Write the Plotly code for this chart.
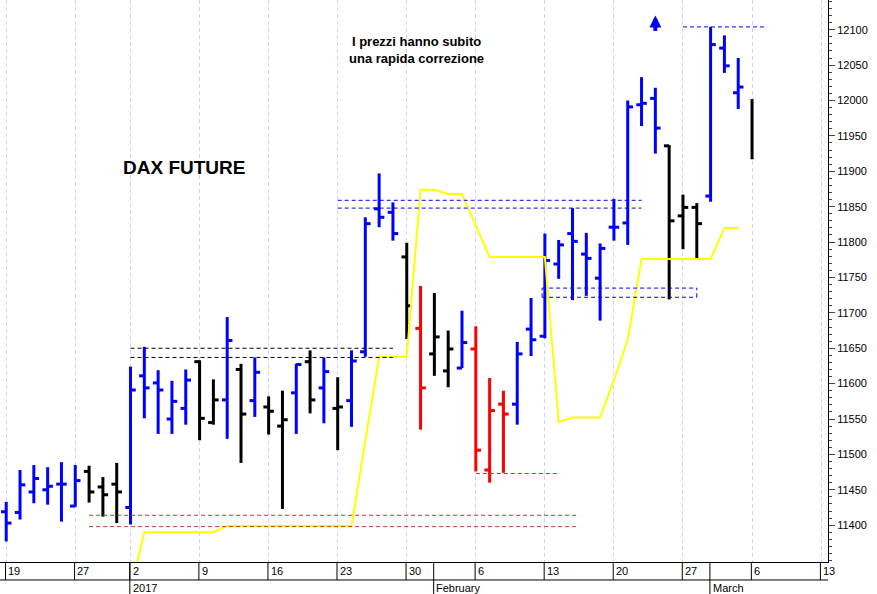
import plotly.graph_objects as go

# trading days, Dec 19 2016 -> Mar 6 2017
dates = ["2016-12-19", "2016-12-20", "2016-12-21", "2016-12-22", "2016-12-23",
         "2016-12-27", "2016-12-28", "2016-12-29", "2016-12-30",
         "2017-01-02", "2017-01-03", "2017-01-04", "2017-01-05", "2017-01-06",
         "2017-01-09", "2017-01-10", "2017-01-11", "2017-01-12", "2017-01-13",
         "2017-01-16", "2017-01-17", "2017-01-18", "2017-01-19", "2017-01-20",
         "2017-01-23", "2017-01-24", "2017-01-25", "2017-01-26", "2017-01-27",
         "2017-01-30", "2017-01-31", "2017-02-01", "2017-02-02", "2017-02-03",
         "2017-02-06", "2017-02-07", "2017-02-08", "2017-02-09", "2017-02-10",
         "2017-02-13", "2017-02-14", "2017-02-15", "2017-02-16", "2017-02-17",
         "2017-02-20", "2017-02-21", "2017-02-22", "2017-02-23", "2017-02-24",
         "2017-02-27", "2017-02-28", "2017-03-01", "2017-03-02", "2017-03-03",
         "2017-03-06"]
opens = [11419, 11418, 11447, 11450, 11458, 11427, 11476, 11454, 11458,
         11425, 11611, 11601, 11550, 11565, 11631, 11545, 11577, 11620, 11576,
         11567, 11540, 11587, 11631, 11594, 11565, 11576, 11645, 11847, 11842,
         11779, 11678, 11642, 11618, 11622, 11649, 11478, 11571, 11571, 11677,
         11667, 11769, 11812, 11783, 11749, 11821, 11827, 11994, 12003, 11936,
         11837, 11849, 11865, 12074, 12011, None]
highs = [11433, 11478, 11485, 11482, 11489, 11485, 11484, 11468, 11488,
         11624, 11652, 11619, 11604, 11620, 11633, 11606, 11694, 11628, 11637,
         11582, 11590, 11628, 11647, 11637, 11609, 11647, 11835, 11897, 11856,
         11799, 11738, 11728, 11675, 11703, 11681, 11608, 11590, 11659, 11721,
         11812, 11803, 11848, 11813, 11798, 11861, 12000, 12033, 12018, 11937,
         11867, 11855, 12104, 12092, 12060, 12002]
lows = [11377, 11408, 11431, 11429, 11405, 11426, 11432, 11412, 11403,
        11401, 11551, 11529, 11529, 11542, 11520, 11542, 11522, 11488, 11553,
        11528, 11423, 11529, 11558, 11544, 11506, 11539, 11638, 11821, 11802,
        11663, 11535, 11611, 11595, 11622, 11476, 11460, 11474, 11542, 11639,
        11664, 11748, 11718, 11724, 11689, 11802, 11796, 11964, 11925, 11719,
        11790, 11777, 11857, 12039, 11988, 11917]
closes = [11403, 11457, 11466, 11455, 11458, 11463, 11447, 11443, 11447,
          11591, 11594, 11591, 11575, 11605, 11551, 11577, 11661, 11557, 11616,
          11561, 11549, 11627, 11577, 11617, 11567, 11632, 11826, 11835, 11812,
          11710, 11594, 11666, 11649, 11658, 11506, 11562, 11557, 11642, 11662,
          11774, 11796, 11801, 11777, 11791, 11821, 11991, 11996, 11961, 11830,
          11849, 11826, 12079, 12049, 12019, None]
bar_colors = list("bbbbbbkkk" + "bbbbbkkbkb" + "kkbkbkbbbb" + "kr" + "kkb" + "rrrbb"
                  + "bbbbb" + "bbbbk" + "kkbbbk")
yellow = [11308, 11390, 11390, 11390, 11390, 11390, 11390, 11399, 11399, 11399,
          11399, 11399, 11399, 11399, 11399, 11399, 11399, 11519, 11638, 11638,
          11638, 11874, 11874, 11868, 11868, 11823, 11779, 11779, 11779, 11779,
          11779, 11546, 11552, 11552, 11552, 11605, 11662, 11776, 11776, 11776,
          11776, 11776, 11776, 11820, 11820]
yellow_start = 9

tick_idx = [0, 5, 9, 14, 19, 24, 29, 34, 39, 44, 49, 54, 59]
tick_text = ["19", "27", "2", "9", "16", "23", "30", "6", "13", "20", "27", "6", "13"]
month_idx = [9, 31, 51]
month_text = ["2017", "February", "March"]
price_ticks = list(range(11400, 12101, 50))

# dashed support/resistance levels: (start idx, end idx, price, colour)
levels = [(9, 28, 11650, "black"), (9, 28, 11637, "black"),
          (6, 41.5, 11414, "#c0392b"), (6, 41.5, 11398, "#c0392b"),
          (24, 46, 11859, "blue"), (24, 46, 11848, "blue"),
          (34, 40, 11473, "#c0392b"),
          (38.8, 50, 11735, "blue"), (38.8, 50, 11722, "blue"),
          (49, 55, 12104, "blue")]

cmap = {"b": "#0000ff", "k": "#000000", "r": "#ff0000"}
W = 0.38
DASH = "4px,3px"

fig = go.Figure()
for key, col in cmap.items():
    xs, ys = [], []
    for i, c in enumerate(bar_colors):
        if c != key:
            continue
        xs += [i, i, None]
        ys += [lows[i], highs[i], None]
        if opens[i] is not None:
            xs += [i - W, i, None, i, i + W, None]
            ys += [opens[i], opens[i], None, closes[i], closes[i], None]
    fig.add_trace(go.Scatter(x=xs, y=ys, mode="lines", line=dict(color=col, width=3),
                             hoverinfo="skip", showlegend=False))

fig.add_trace(go.Scatter(x=list(range(yellow_start, yellow_start + len(yellow))), y=yellow,
                         mode="lines", line=dict(color="#ffff00", width=2),
                         showlegend=False, hoverinfo="skip"))

for x0, x1, p, c in levels:
    fig.add_shape(type="line", x0=x0, x1=x1, y0=p, y1=p,
                  line=dict(color=c, width=1, dash=DASH))
fig.add_shape(type="line", x0=38.8, x1=38.8, y0=11722, y1=11735,
              line=dict(color="blue", width=1, dash=DASH))
fig.add_shape(type="line", x0=50, x1=50, y0=11722, y1=11735,
              line=dict(color="blue", width=1, dash=DASH))

# bottom label bands
for t in tick_idx:
    fig.add_shape(type="line", xref="x", yref="paper", x0=t - 0.05, x1=t - 0.05,
                  y0=0, y1=-0.032, line=dict(color="black", width=1))
for t, s in zip(month_idx, month_text):
    fig.add_shape(type="line", xref="x", yref="paper", x0=t - 0.05, x1=t - 0.05,
                  y0=0, y1=-0.06, line=dict(color="black", width=1))
    fig.add_annotation(x=t, y=-0.046, xref="x", yref="paper", text=s,
                       showarrow=False, xanchor="left", yanchor="middle",
                       font=dict(size=11, color="black"))
fig.add_shape(type="line", xref="paper", yref="paper", x0=0, x1=1, y0=-0.032, y1=-0.032,
              line=dict(color="black", width=1))
for t, s in zip(tick_idx, tick_text):
    fig.add_annotation(x=t, y=-0.016, xref="x", yref="paper", text=s, showarrow=False,
                       xanchor="left", yanchor="middle", font=dict(size=11, color="black"))

fig.add_annotation(x=12.9, y=11905, text="<b>DAX FUTURE</b>", showarrow=False,
                   font=dict(size=19, color="black", family="Arial, Liberation Sans"))
fig.add_annotation(x=29.7, y=12072, text="<b>I prezzi hanno subito<br>una rapida correzione</b>",
                   showarrow=False, font=dict(size=13, color="black", family="Arial, Liberation Sans"))
fig.add_annotation(x=47, y=12120, ax=0, ay=17, text="", showarrow=True,
                   arrowhead=2, arrowsize=0.6, arrowwidth=4, arrowcolor="#0000ff")

fig.update_layout(
    width=877, height=594, margin=dict(l=0, r=49, t=0, b=32),
    paper_bgcolor="white", plot_bgcolor="white",
    font=dict(family="Arial, Liberation Sans", size=12, color="black"),
    xaxis=dict(range=[-0.45, 59.5], tickvals=tick_idx, ticktext=[""] * len(tick_idx),
               showgrid=True, gridcolor="#d4d4f4", griddash=DASH, gridwidth=1,
               zeroline=False, showline=True, linecolor="black", ticks=""),
    yaxis=dict(range=[11348, 12142], side="right", tickvals=price_ticks, tickformat="d",
               showgrid=False, zeroline=False, showline=True, linecolor="black",
               ticks="outside", ticklen=6, minor=dict(dtick=10, ticks="outside", ticklen=3),
               tickfont=dict(size=11)),
)
fig.write_html("out.html", config={"displayModeBar": False},
               post_script="document.body.style.margin='0';")
